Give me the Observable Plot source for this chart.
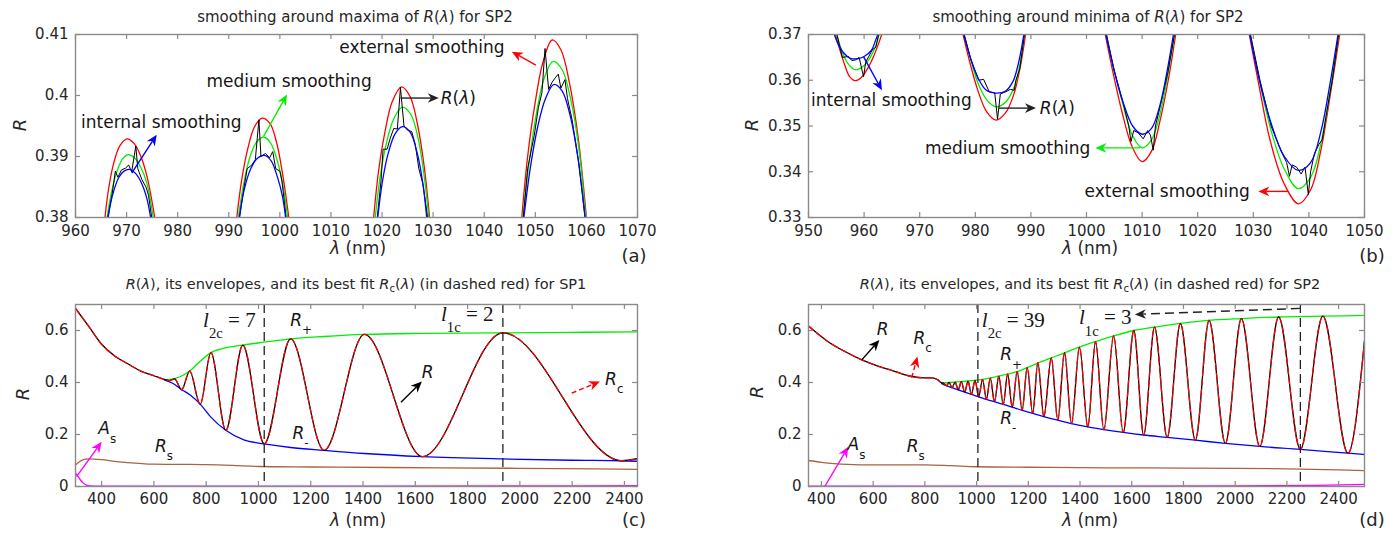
<!DOCTYPE html>
<html>
<head>
<meta charset="utf-8">
<script src="https://cdn.jsdelivr.net/npm/d3@7"></script>
<script src="https://cdn.jsdelivr.net/npm/@observablehq/plot@0.6"></script>
<style>
  body { margin: 0; background: #fff; }
  #fig { position: relative; width: 1400px; height: 533px; overflow: hidden; font-family: "DejaVu Sans", sans-serif; color: #262626; }
  .lbl { position: absolute; white-space: nowrap; line-height: 1; transform: translate(-50%, -50%); }
  .ttl { font-size: 15px; }
  .ttl2 { font-size: 14.5px; }
  .xl { font-size: 17px; }
  .pl { font-size: 18px; }
  .yl { font-size: 18px; font-style: italic; transform: translate(-50%, -50%) rotate(-90deg); }
  sub { font-size: 70%; vertical-align: -0.35em; line-height: 0; }
</style>
</head>
<body>
<div id="fig"></div>
<script>
// ---------------- DATA ----------------
// Panel (a): smoothing around maxima (SP2); null separates peaks
const aRedLam = [965.7,966.5,967.5,968.7,970.1,971.5,972.8,974.0,975.0,975.7,null,991.5,992.5,993.7,995.0,996.5,998.0,999.3,1000.6,1001.9,null,1018.3,1019.3,1020.5,1022.0,1023.8,1025.5,1027.0,1028.3,1029.4,null,1047.3,1048.5,1050.0,1051.5,1053.3,1055.0,1056.7,1058.4,1060.1];
const aRed    = [0.3795,0.3848,0.3890,0.3918,0.3929,0.3921,0.3900,0.3867,0.3825,0.3790,null,0.3795,0.3860,0.3912,0.3948,0.3963,0.3955,0.3925,0.3868,0.3790,null,0.3795,0.3875,0.3937,0.3990,0.4014,0.3998,0.3950,0.3880,0.3790,null,0.3795,0.3900,0.3990,0.4055,0.4091,0.4075,0.4020,0.3930,0.3790];
const aGreenLam = [966.1,967.0,968.2,969.3,970.3,971.5,972.8,974.0,975.3,null,991.8,992.8,994.0,995.3,996.8,998.2,999.5,1000.7,1001.6,null,1018.6,1019.6,1020.8,1022.3,1024.0,1025.7,1027.1,1028.3,1029.2,null,1047.5,1048.7,1050.2,1051.8,1053.5,1055.2,1056.9,1058.5,1059.9];
const aGreen    = [0.3795,0.3840,0.3878,0.3897,0.3903,0.3898,0.3882,0.3855,0.3795,null,0.3795,0.3850,0.3895,0.3922,0.3932,0.3922,0.3893,0.3848,0.3795,null,0.3795,0.3865,0.3920,0.3962,0.3981,0.3968,0.3928,0.3865,0.3795,null,0.3795,0.3885,0.3970,0.4030,0.4056,0.4043,0.3995,0.3915,0.3795];
const aBlueLam = [966.3,967.2,968.5,969.5,970.5,971.8,973.0,974.0,974.8,null,992.0,993.0,994.3,995.6,997.0,998.3,999.5,1000.5,1001.2,null,1019.1,1020.0,1021.2,1022.6,1024.0,1025.5,1026.9,1028.0,1028.8,null,1047.7,1049.0,1050.5,1052.0,1053.6,1055.2,1056.8,1058.3,1059.8];
const aBlue    = [0.3795,0.3835,0.3866,0.3876,0.3879,0.3872,0.3855,0.3830,0.3795,null,0.3795,0.3845,0.3880,0.3897,0.3902,0.3893,0.3867,0.3835,0.3795,null,0.3795,0.3855,0.3905,0.3938,0.3949,0.3940,0.3905,0.3855,0.3795,null,0.3795,0.3880,0.3950,0.3995,0.4018,0.4008,0.3968,0.3900,0.3795];
const aBlackLam = [966.2,967.2,967.8,968.3,969.0,969.8,970.4,971.0,971.8,972.2,973.0,973.8,974.3,975.0,null,992.0,993.0,993.6,994.5,995.2,995.9,996.3,997.2,998.0,998.6,999.2,1000.0,1000.4,1001.3,null,1019.0,1019.8,1020.2,1021.0,1021.6,1022.3,1023.0,1023.6,1024.3,1025.0,1025.8,1026.5,1027.2,1028.0,1029.0,null,1047.6,1048.5,1049.8,1050.6,1051.3,1051.9,1052.6,1053.3,1054.0,1054.5,1055.0,1055.8,1056.3,1057.2,1058.5,1059.8];
const aBlack    = [0.3795,0.3840,0.3876,0.3866,0.3878,0.3881,0.3886,0.3875,0.3917,0.3880,0.3862,0.3850,0.3836,0.3795,null,0.3795,0.3850,0.3880,0.3886,0.3895,0.3960,0.3900,0.3905,0.3898,0.3908,0.3880,0.3876,0.3860,0.3795,null,0.3795,0.3860,0.3912,0.3912,0.3930,0.3946,0.3945,0.4013,0.3950,0.3943,0.3941,0.3920,0.3880,0.3855,0.3795,null,0.3795,0.3880,0.3935,0.3980,0.4005,0.4077,0.4010,0.4022,0.4030,0.4035,0.4012,0.4026,0.3995,0.3960,0.3890,0.3795];

// Panel (b): smoothing around minima (SP2)
const bRedLam = [954.7,955.5,956.5,957.4,958.4,959.5,960.6,961.7,962.6,963.3,null,977.7,979.0,980.4,982.0,983.7,985.4,986.9,988.1,989.1,null,1003.3,1004.8,1006.4,1008.2,1010.0,1011.7,1013.2,1014.7,1016.1,null,1029.2,1031.0,1033.0,1035.5,1038.1,1040.3,1042.2,1044.0,1045.6];
const bRed    = [0.3705,0.3672,0.3634,0.3608,0.3599,0.3606,0.3625,0.3652,0.3680,0.3705,null,0.3705,0.3640,0.3580,0.3532,0.3513,0.3528,0.3568,0.3630,0.3705,null,0.3705,0.3615,0.3530,0.3455,0.3422,0.3445,0.3510,0.3600,0.3705,null,0.3705,0.3590,0.3470,0.3375,0.3330,0.3360,0.3450,0.3580,0.3705];
const bGreenLam = [955.0,955.9,957.0,958.4,959.8,961.0,962.1,962.8,null,977.9,979.2,980.6,982.2,983.8,985.5,987.0,988.1,988.9,null,1003.5,1005.0,1006.6,1008.3,1010.0,1011.7,1013.2,1014.6,1015.9,null,1029.4,1031.2,1033.2,1035.6,1038.1,1040.4,1042.3,1044.0,1045.4];
const bGreen    = [0.3705,0.3668,0.3638,0.3623,0.3630,0.3648,0.3675,0.3705,null,0.3705,0.3645,0.3590,0.3555,0.3542,0.3553,0.3585,0.3640,0.3705,null,0.3705,0.3620,0.3545,0.3478,0.3452,0.3470,0.3525,0.3610,0.3705,null,0.3705,0.3595,0.3490,0.3405,0.3363,0.3390,0.3470,0.3590,0.3705];
const bBlueLam = [954.5,955.3,956.3,957.5,958.8,960.0,961.3,962.0,962.6,null,977.8,979.1,980.5,982.0,983.7,985.4,986.8,987.9,988.8,null,1003.4,1004.9,1006.5,1008.3,1010.0,1011.7,1013.2,1014.5,1015.7,null,1029.3,1031.1,1033.1,1035.5,1038.1,1040.3,1042.2,1043.9,1045.3];
const bBlue    = [0.3705,0.3680,0.3660,0.3648,0.3647,0.3652,0.3665,0.3685,0.3705,null,0.3705,0.3650,0.3605,0.3578,0.3572,0.3576,0.3598,0.3645,0.3705,null,0.3705,0.3625,0.3555,0.3500,0.3482,0.3495,0.3545,0.3620,0.3705,null,0.3705,0.3600,0.3510,0.3435,0.3403,0.3420,0.3490,0.3600,0.3705];
const bBlackLam = [955.0,955.7,956.1,957.2,957.8,958.6,959.1,959.9,960.3,961.2,961.6,962.1,962.7,null,977.9,979.2,980.6,981.5,982.5,983.5,984.0,984.5,985.5,986.3,987.0,987.3,988.0,988.9,null,1003.5,1005.0,1006.6,1007.6,1008.0,1008.5,1009.3,1010.2,1011.0,1011.5,1012.0,1012.4,1013.3,1014.6,1015.9,null,1029.4,1031.2,1033.2,1035.0,1036.0,1036.5,1037.0,1037.8,1038.6,1039.3,1039.9,1040.3,1041.0,1041.8,1042.4,1043.2,1044.2,1045.4];
const bBlack    = [0.3705,0.3670,0.3650,0.3652,0.3643,0.3645,0.3650,0.3608,0.3640,0.3660,0.3668,0.3672,0.3705,null,0.3705,0.3645,0.3600,0.3602,0.3575,0.3572,0.3515,0.3570,0.3575,0.3580,0.3578,0.3600,0.3625,0.3705,null,0.3705,0.3620,0.3550,0.3500,0.3466,0.3490,0.3485,0.3472,0.3490,0.3480,0.3447,0.3500,0.3545,0.3615,0.3705,null,0.3705,0.3600,0.3500,0.3445,0.3420,0.3390,0.3415,0.3410,0.3395,0.3410,0.3350,0.3400,0.3440,0.3460,0.3470,0.3530,0.3600,0.3705];

// Panel (c): SP1
const cLam = [300,350,400,450,500,550,600,640,660,679,706,737,777,818,875,940,1022,1123,1251,1405,1627,1935,2390,2450];
const cR   = [0.685,0.617,0.547,0.502,0.472,0.444,0.426,0.412,0.407,0.414,0.372,0.444,0.316,0.515,0.216,0.544,0.164,0.568,0.139,0.585,0.115,0.591,0.099,0.107];
const cRc  = [0.685,0.617,0.547,0.502,0.472,0.444,0.426,0.412,0.407,0.414,0.372,0.444,0.316,0.515,0.216,0.544,0.164,0.568,0.139,0.585,0.115,0.591,0.099,0.107];
const cPlusLam = [640,679,710,737,770,818,870,940,1022,1123,1250,1405,1627,1935,2200,2450];
const cPlus    = [0.410,0.415,0.427,0.444,0.475,0.515,0.532,0.544,0.555,0.568,0.577,0.585,0.589,0.591,0.593,0.595];
const cMinusLam = [640,670,706,740,777,817,875,944,1022,1123,1251,1405,1627,1935,2200,2390,2450];
const cMinus    = [0.410,0.398,0.373,0.351,0.317,0.268,0.216,0.179,0.164,0.150,0.139,0.127,0.115,0.106,0.101,0.099,0.097];
const cRsLam = [300,315,330,350,400,450,500,600,700,800,900,1000,1200,1500,2000,2450];
const cRs    = [0.083,0.095,0.103,0.106,0.103,0.097,0.092,0.086,0.085,0.084,0.081,0.077,0.075,0.073,0.070,0.066];
const cAsLam = [300,310,320,330,340,355,400,1000,2000,2450];
const cAs    = [0.052,0.038,0.024,0.013,0.006,0.002,0.001,0.001,0.002,0.003];
const cVLines = [1022, 1935];

// Panel (d): SP2
const dLam = [350,423,487,552,616,680,745,800,830,850,865,872,883,894,905,917,929,941,954,967,980,994,1008,1023,1038,1053,1069,1086,1103,1120,1138,1157,1176,1196,1217,1237,1260,1289,1314,1340,1367,1398,1430,1460,1492,1530,1567,1608,1646,1688,1737,1788,1846,1899,1962,2024,2095,2168,2252,2339,2436,2500];
const dR   = [0.617,0.559,0.521,0.489,0.464,0.444,0.424,0.418,0.418,0.410,0.399,0.398,0.388,0.400,0.380,0.401,0.372,0.403,0.363,0.405,0.354,0.408,0.345,0.412,0.335,0.417,0.326,0.424,0.316,0.432,0.305,0.442,0.293,0.457,0.281,0.476,0.269,0.495,0.255,0.515,0.242,0.536,0.229,0.557,0.219,0.579,0.208,0.600,0.198,0.613,0.189,0.627,0.178,0.639,0.166,0.646,0.154,0.652,0.143,0.655,0.128,0.560];
const dRc  = [0.617,0.559,0.521,0.489,0.464,0.444,0.424,0.418,0.418,0.410,0.399,0.398,0.388,0.400,0.380,0.401,0.372,0.403,0.363,0.405,0.354,0.408,0.345,0.412,0.335,0.417,0.326,0.424,0.316,0.432,0.305,0.442,0.293,0.457,0.281,0.476,0.269,0.495,0.255,0.515,0.242,0.536,0.229,0.557,0.219,0.579,0.208,0.600,0.198,0.613,0.189,0.627,0.178,0.639,0.166,0.646,0.154,0.652,0.143,0.655,0.128,0.560];
const dPlusLam = [865,900,950,1000,1050,1100,1157,1200,1250,1300,1350,1400,1460,1530,1608,1688,1788,1899,2024,2168,2339,2500];
const dPlus    = [0.398,0.400,0.404,0.409,0.417,0.428,0.442,0.459,0.480,0.499,0.518,0.537,0.557,0.579,0.600,0.613,0.627,0.639,0.646,0.652,0.655,0.658];
const dMinusLam = [865,883,905,929,954,980,1008,1038,1069,1103,1138,1176,1217,1260,1314,1367,1430,1492,1567,1646,1737,1846,1962,2095,2252,2436,2500];
const dMinus    = [0.396,0.388,0.380,0.372,0.363,0.354,0.345,0.335,0.326,0.316,0.305,0.293,0.281,0.269,0.255,0.242,0.229,0.219,0.208,0.198,0.189,0.178,0.166,0.154,0.143,0.128,0.123];
const dRsLam = [350,400,450,500,600,700,800,900,1000,1200,1500,1800,2000,2200,2400,2500];
const dRs    = [0.100,0.093,0.088,0.085,0.083,0.083,0.083,0.080,0.076,0.074,0.072,0.071,0.070,0.068,0.064,0.061];
const dAsLam = [350,1000,1500,2000,2300,2500];
const dAs    = [0.001,0.001,0.001,0.002,0.004,0.008];
const dVLines = [1005, 2252];

// Ticks and tick labels
const aXTicks = [960,970,980,990,1000,1010,1020,1030,1040,1050,1060,1070];
const aXLabels = ["960","970","980","990","1000","1010","1020","1030","1040","1050","1060","1070"];
const aYTicks = [0.38,0.39,0.40,0.41];
const aYLabels = ["0.38","0.39","0.4","0.41"];
const bXTicks = [950,960,970,980,990,1000,1010,1020,1030,1040,1050];
const bXLabels = ["950","960","970","980","990","1000","1010","1020","1030","1040","1050"];
const bYTicks = [0.33,0.34,0.35,0.36,0.37];
const bYLabels = ["0.33","0.34","0.35","0.36","0.37"];
const cdXTicks = [400,600,800,1000,1200,1400,1600,1800,2000,2200,2400];
const cdXLabels = ["400","600","800","1000","1200","1400","1600","1800","2000","2200","2400"];
const cdYTicks = [0,0.2,0.4,0.6];
const cdYLabels = ["0","0.2","0.4","0.6"];

// Annotations (data coordinates)
const annA = [
  {x:1027.9, y:0.4078, parts:[["external smoothing",""]], anchor:"middle", center:true},
  {x:1001.9, y:0.4023, parts:[["medium smoothing",""]], anchor:"middle", center:true},
  {x:976.9,  y:0.3956, parts:[["internal smoothing",""]], anchor:"middle", center:true},
  {x:1031.6, y:0.3995, parts:[["R","i"],["(",""],["λ","i"],[")",""]], center:true}
];
const arrA = [
  {x1:1050.2, y1:0.4049, x2:1045.5, y2:0.4071, color:"#ff0000"},
  {x1:996.9,  y1:0.3932, x2:1001.5, y2:0.4001, color:"#00ee00"},
  {x1:971.1,  y1:0.3872, x2:976.0,  y2:0.3935, color:"#0000ff"},
  {x1:1023.7, y1:0.3995, x2:1031.2, y2:0.3995, color:"#222"}
];
const annB = [
  {x:965.0,  y:0.3555, parts:[["internal smoothing",""]], anchor:"middle", center:true},
  {x:991.7,  y:0.3538, parts:[["R","i"],["(",""],["λ","i"],[")",""]], center:true},
  {x:985.9,  y:0.3451, parts:[["medium smoothing",""]], anchor:"middle", center:true},
  {x:1014.6, y:0.3356, parts:[["external smoothing",""]], anchor:"middle", center:true}
];
const arrB = [
  {x1:960.0,  y1:0.3650, x2:963.3,  y2:0.3577, color:"#0000ff"},
  {x1:984.3,  y1:0.3538, x2:991.0,  y2:0.3538, color:"#222"},
  {x1:1009.7, y1:0.3451, x2:1001.7, y2:0.3451, color:"#00ee00"},
  {x1:1036.4, y1:0.3356, x2:1031.0, y2:0.3356, color:"#ff0000"}
];
const annC = [
  {x:389,  y:0.200, parts:[["A","i"],["s","sub"]]},
  {x:606,  y:0.131, parts:[["R","i"],["s","sub"]]},
  {x:790,  y:0.613, parts:[["l","i"],["2c","sub"],[" = 7",""]], serif:true},
  {x:1123, y:0.616, parts:[["R","i"],["+","sub"]]},
  {x:1700, y:0.635, parts:[["l","i"],["1c","sub"],[" = 2",""]], serif:true},
  {x:1132, y:0.181, parts:[["R","i"],["-","sub"]]},
  {x:1627, y:0.414, parts:[["R","i"]]},
  {x:2328, y:0.389, parts:[["R","i"],["c","sub"]]}
];
const arrC = [
  {x1:306,  y1:0.036, x2:402,  y2:0.170, color:"#ff00ff"},
  {x1:1547, y1:0.322, x2:1627, y2:0.402, color:"#000"},
  {x1:2200, y1:0.357, x2:2308, y2:0.402, color:"#ff0000", dash:"5,3"}
];
const annD = [
  {x:616,  y:0.579, parts:[["R","i"]]},
  {x:758,  y:0.547, parts:[["R","i"],["c","sub"]]},
  {x:503,  y:0.138, parts:[["A","i"],["s","sub"]]},
  {x:732,  y:0.131, parts:[["R","i"],["s","sub"]]},
  {x:1022, y:0.613, parts:[["l","i"],["2c","sub"],[" = 39",""]], serif:true},
  {x:1093, y:0.483, parts:[["R","i"],["+","sub"]]},
  {x:1093, y:0.240, parts:[["R","i"],["-","sub"]]},
  {x:1398, y:0.623, parts:[["l","i"],["1c","sub"],[" = 3",""]], serif:true}
];
const arrD = [
  {x1:558,  y1:0.485, x2:626,  y2:0.562, color:"#000"},
  {x1:751,  y1:0.416, x2:773,  y2:0.498, color:"#ff0000", dash:"5,3"},
  {x1:416,  y1:0.000, x2:506,  y2:0.151, color:"#ff00ff"},
  {x1:2252, y1:0.683, x2:1614, y2:0.660, color:"#222", dash:"9,5"}
];

// ---------------- HELPERS ----------------
const fig = document.getElementById("fig");
const FRAME = "#8a8a8a";
function pts(xs, ys) { return xs.map((x, i) => ({x, y: ys[i]})); }
function line(xs, ys, o) { return Plot.line(pts(xs, ys), {x: "x", y: "y", clip: true, ...o}); }

function richText(items, size) {
  return (index, scales) => {
    const g = d3.create("svg:g");
    for (const it of items) {
      const fs = it.serif ? size + 4 : size;
      const fam = it.serif ? '"Liberation Serif", "DejaVu Serif", serif' : '"DejaVu Sans", sans-serif';
      const t = g.append("text")
        .attr("x", scales.x(it.x))
        .attr("y", scales.y(it.y) + (it.center ? fs * 0.35 : 0))
        .attr("text-anchor", it.anchor || "start")
        .attr("font-family", fam).attr("font-size", fs).attr("fill", "#151515");
      let shift = 0;
      for (const [s, st] of it.parts) {
        const sp = t.append("tspan").text(s);
        const want = st === "sub" ? fs * (it.serif ? 0.55 : 0.5) : 0;
        if (want !== shift) { sp.attr("dy", want - shift); shift = want; }
        if (st === "sub") sp.attr("font-size", fs * 0.7);
        if (st === "i") sp.attr("font-style", "italic");
      }
    }
    return g.node();
  };
}

function arrows(items) {
  return (index, scales) => {
    const g = d3.create("svg:g");
    for (const a of items) {
      const x1 = scales.x(a.x1), y1 = scales.y(a.y1), x2 = scales.x(a.x2), y2 = scales.y(a.y2);
      const dx = x2 - x1, dy = y2 - y1, L = Math.hypot(dx, dy), ux = dx / L, uy = dy / L;
      const hl = 11, hw = 4.8;
      const bx = x2 - ux * hl, by = y2 - uy * hl;
      const nx = x2 - ux * hl * 0.7, ny = y2 - uy * hl * 0.7;
      g.append("line").attr("x1", x1).attr("y1", y1).attr("x2", nx).attr("y2", ny)
        .attr("stroke", a.color).attr("stroke-width", 1.4)
        .attr("stroke-dasharray", a.dash || null);
      g.append("path")
        .attr("d", `M${x2},${y2}L${bx - uy * hw},${by + ux * hw}L${nx},${ny}L${bx + uy * hw},${by - ux * hw}Z`)
        .attr("fill", a.color);
    }
    return g.node();
  };
}

function panel(cfg) {
  const {left, top, width, height, ml, mr, mt, mb, xDomain, yDomain, xTicks, xLabels, yTicks, yLabels, pad, marks} = cfg;
  const ph = height - mt - mb, pw = width - ml - mr;
  const xl = new Map(xTicks.map((t, i) => [t, xLabels[i]]));
  const yl = new Map(yTicks.map((t, i) => [t, yLabels[i]]));
  const p = Plot.plot({
    width, height, marginLeft: ml, marginRight: mr, marginTop: mt, marginBottom: mb,
    style: {fontFamily: '"DejaVu Sans", sans-serif', fontSize: "15px", color: "#262626", background: "transparent", overflow: "visible"},
    x: {domain: xDomain},
    y: {domain: yDomain},
    marks: [
      ...marks,
      Plot.frame({stroke: FRAME, strokeWidth: 1.4}),
      Plot.ruleX(xTicks, {x: d => d, insetTop: ph - 5, stroke: FRAME, strokeWidth: 1.2}),
      Plot.ruleX(xTicks, {x: d => d, insetBottom: ph - 5, stroke: FRAME, strokeWidth: 1.2}),
      Plot.ruleY(yTicks, {y: d => d, insetRight: pw - 5, stroke: FRAME, strokeWidth: 1.2}),
      Plot.ruleY(yTicks, {y: d => d, insetLeft: pw - 5, stroke: FRAME, strokeWidth: 1.2}),
      Plot.axisX(xTicks, {tickSize: 0, tickPadding: pad, tickFormat: d => xl.get(d), label: null, fontSize: 15, fill: "#262626"}),
      Plot.axisY(yTicks, {tickSize: 0, tickPadding: 7, tickFormat: d => yl.get(d), label: null, fontSize: 15, fill: "#262626"})
    ]
  });
  p.style.position = "absolute";
  p.style.left = left + "px";
  p.style.top = top + "px";
  fig.append(p);
}

function label(html, cls, x, y) {
  const d = document.createElement("div");
  d.className = "lbl " + cls;
  d.innerHTML = html;
  d.style.left = x + "px";
  d.style.top = y + "px";
  fig.append(d);
}

const LW = 1.3;
const RED = "#ff0000", GREEN = "#00ee00", BLUE = "#0000ff", BROWN = "#a8643c", MAG = "#ff00ff";

// ---------------- PANELS ----------------
panel({
  left: 0, top: 0, width: 700, height: 270, ml: 75, mr: 63, mt: 34, mb: 53, pad: 8,
  xDomain: [960, 1070], yDomain: [0.38, 0.41],
  xTicks: aXTicks, xLabels: aXLabels, yTicks: aYTicks, yLabels: aYLabels,
  marks: [
    line(aRedLam, aRed, {stroke: RED, strokeWidth: LW, curve: "catmull-rom"}),
    line(aGreenLam, aGreen, {stroke: GREEN, strokeWidth: LW, curve: "catmull-rom"}),
    line(aBlackLam, aBlack, {stroke: "#000", strokeWidth: 1}),
    line(aBlueLam, aBlue, {stroke: BLUE, strokeWidth: LW, curve: "catmull-rom"}),
    arrows(arrA),
    richText(annA, 17)
  ]
});

panel({
  left: 700, top: 0, width: 700, height: 270, ml: 108, mr: 36, mt: 34, mb: 53, pad: 8,
  xDomain: [950, 1050], yDomain: [0.33, 0.37],
  xTicks: bXTicks, xLabels: bXLabels, yTicks: bYTicks, yLabels: bYLabels,
  marks: [
    line(bRedLam, bRed, {stroke: RED, strokeWidth: LW, curve: "catmull-rom"}),
    line(bGreenLam, bGreen, {stroke: GREEN, strokeWidth: LW, curve: "catmull-rom"}),
    line(bBlackLam, bBlack, {stroke: "#000", strokeWidth: 1}),
    line(bBlueLam, bBlue, {stroke: BLUE, strokeWidth: LW, curve: "catmull-rom"}),
    arrows(arrB),
    richText(annB, 17)
  ]
});

panel({
  left: 0, top: 270, width: 700, height: 263, ml: 75, mr: 63, mt: 34, mb: 47, pad: 7,
  xDomain: [300, 2450], yDomain: [0, 0.7],
  xTicks: cdXTicks, xLabels: cdXLabels, yTicks: cdYTicks, yLabels: cdYLabels,
  marks: [
    line(cRsLam, cRs, {stroke: BROWN, strokeWidth: LW, curve: "monotone-x"}),
    line(cAsLam, cAs, {stroke: MAG, strokeWidth: LW, curve: "monotone-x"}),
    line(cPlusLam, cPlus, {stroke: GREEN, strokeWidth: LW, curve: "monotone-x"}),
    line(cMinusLam, cMinus, {stroke: BLUE, strokeWidth: LW, curve: "monotone-x"}),
    line(cLam, cR, {stroke: "#000", strokeWidth: LW, curve: "monotone-x"}),
    line(cLam, cRc, {stroke: RED, strokeWidth: LW, curve: "monotone-x", strokeDasharray: "6,4"}),
    Plot.ruleX(cVLines, {x: d => d, stroke: "#222", strokeWidth: 1.3, strokeDasharray: "9,5"}),
    arrows(arrC),
    richText(annC, 17)
  ]
});

panel({
  left: 700, top: 270, width: 700, height: 263, ml: 108, mr: 36, mt: 34, mb: 47, pad: 7,
  xDomain: [350, 2500], yDomain: [0, 0.7],
  xTicks: cdXTicks, xLabels: cdXLabels, yTicks: cdYTicks, yLabels: cdYLabels,
  marks: [
    line(dRsLam, dRs, {stroke: BROWN, strokeWidth: LW, curve: "monotone-x"}),
    line(dAsLam, dAs, {stroke: MAG, strokeWidth: LW, curve: "monotone-x"}),
    line(dPlusLam, dPlus, {stroke: GREEN, strokeWidth: LW, curve: "monotone-x"}),
    line(dMinusLam, dMinus, {stroke: BLUE, strokeWidth: LW, curve: "monotone-x"}),
    line(dLam, dR, {stroke: "#000", strokeWidth: LW, curve: "monotone-x"}),
    line(dLam, dRc, {stroke: RED, strokeWidth: LW, curve: "monotone-x", strokeDasharray: "6,4"}),
    Plot.ruleX(dVLines, {x: d => d, stroke: "#222", strokeWidth: 1.3, strokeDasharray: "9,5"}),
    arrows(arrD),
    richText(annD, 17)
  ]
});

// ---------------- TITLES & LABELS ----------------
label("smoothing around maxima of <i>R</i>(<i>λ</i>) for SP2", "ttl", 355, 17);
label("smoothing around minima of <i>R</i>(<i>λ</i>) for SP2", "ttl", 1088, 17);
label("<i>R</i>(<i>λ</i>), its envelopes, and its best fit <i>R</i><sub>c</sub>(<i>λ</i>) (in dashed red) for SP1", "ttl2", 356, 284);
label("<i>R</i>(<i>λ</i>), its envelopes, and its best fit <i>R</i><sub>c</sub>(<i>λ</i>) (in dashed red) for SP2", "ttl2", 1090, 284);

label("<i>λ</i> (nm)", "xl", 358, 248);
label("<i>λ</i> (nm)", "xl", 1090, 248);
label("<i>λ</i> (nm)", "xl", 358, 520);
label("<i>λ</i> (nm)", "xl", 1090, 520);

label("R", "yl", 20, 125);
label("R", "yl", 752, 125);
label("R", "yl", 23, 394);
label("R", "yl", 757, 392);

label("(a)", "pl", 634, 256);
label("(b)", "pl", 1372, 256);
label("(c)", "pl", 634, 520);
label("(d)", "pl", 1372, 520);
</script>
</body>
</html>
